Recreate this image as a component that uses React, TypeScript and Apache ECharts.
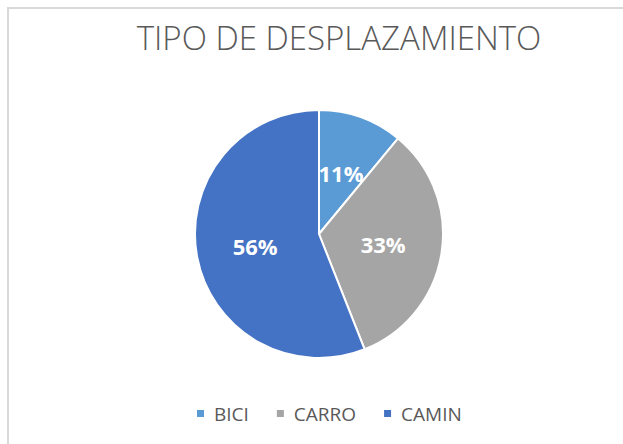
import React, { useEffect, useRef } from "react";
import * as echarts from "echarts";

const categories = ["BICI", "CARRO", "CAMIN"];
const values = [11, 33, 56];
const colors = ["#5B9BD5", "#A5A5A5", "#4472C4"];
const titleText = "TIPO DE DESPLAZAMIENTO";

export default function App() {
  const ref = useRef<HTMLDivElement>(null);
  useEffect(() => {
    if (!ref.current) return;
    const chart = echarts.init(ref.current, null, { renderer: "svg" });
    chart.setOption({
      animation: false,
      backgroundColor: "#ffffff",
      title: {
        text: titleText,
        left: 334,
        textAlign: "center",
        top: 16,
        textStyle: {
          fontFamily: "Open Sans",
          fontWeight: 300,
          fontSize: 33,
          color: "#595959",
        },
      },
      graphic: [
        {
          type: "rect",
          shape: { x: 8, y: 8, width: 800, height: 800 },
          style: { fill: "none", stroke: "#D9D9D9", lineWidth: 2 },
          silent: true,
        },
      ],
      legend: {
        top: 399,
        left: 190,
        itemWidth: 9,
        itemHeight: 9,
        itemGap: 26,
        icon: "rect",
        textStyle: {
          fontFamily: "Open Sans",
          fontSize: 19,
          color: "#595959",
          padding: [0, 0, 0, 4],
        },
        data: categories,
      },
      series: [
        {
          type: "pie",
          center: [319, 234],
          radius: [0, 124],
          startAngle: 90,
          clockwise: true,
          data: categories.map((c, i) => ({ name: c, value: values[i], itemStyle: { color: colors[i] } })),
          itemStyle: { borderColor: "#ffffff", borderWidth: 2 },
          label: {
            show: true,
            position: "inside",
            formatter: "{d}%",
            color: "#ffffff",
            fontFamily: "Open Sans",
            fontWeight: "bold",
            fontSize: 22,
          },
          labelLine: { show: false },
        },
      ],
    });
    return () => chart.dispose();
  }, []);
  return (
    <div
      ref={ref}
      style={{ position: "fixed", left: 0, top: 0, width: 623, height: 444 }}
    />
  );
}
